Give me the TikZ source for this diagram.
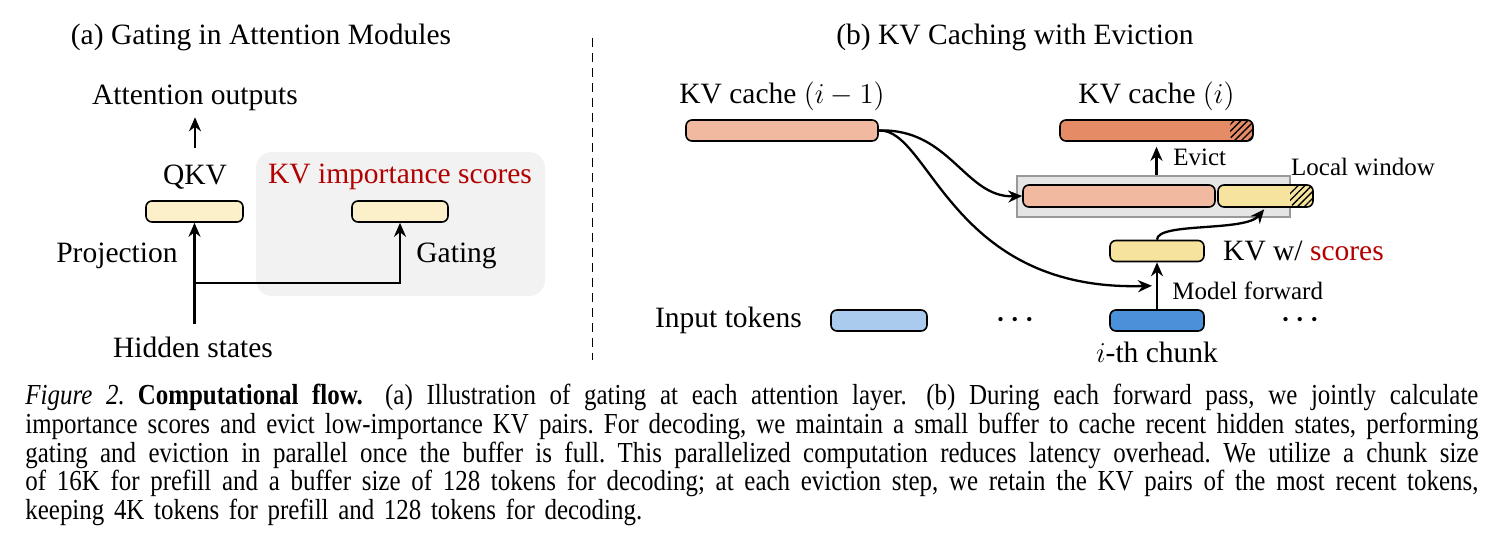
\documentclass[tikz,border=0pt]{standalone}
\usepackage{fontspec}
\setmainfont{Liberation Serif}
\newfontfamily\capfont{Liberation Serif}[FakeStretch=0.86]
\usepackage{tikz}
\usetikzlibrary{positioning,arrows.meta,calc,patterns.meta}
\definecolor{cream}{HTML}{FBF0C9}
\definecolor{sand}{HTML}{F5E39E}
\definecolor{salmon}{HTML}{F0B9A0}
\definecolor{rust}{HTML}{E58C66}
\definecolor{sky}{HTML}{AACBEE}
\definecolor{ocean}{HTML}{4B91DA}
\definecolor{scorered}{HTML}{B30000}
\newcommand{\mainsize}{\fontsize{14.75pt}{17pt}\selectfont}
\newcommand{\notesize}{\fontsize{12.5pt}{15pt}\selectfont}
\newcommand{\capsize}{\capfont\fontsize{14.5pt}{13pt}\selectfont\frenchspacing}
\newcommand{\capline}[1]{\hbox to 726.5pt{\spaceskip=0.215em plus 0.6em minus 0.05em\relax #1}}
\newcommand{\skipdots}{{\fontsize{18pt}{18pt}\selectfont\textperiodcentered\hspace{1.2pt}\textperiodcentered\hspace{1.2pt}\textperiodcentered}}
\tikzset{
  bar/.style={draw,line width=0.8pt,rounded corners=3pt,minimum height=10.5pt,inner sep=0pt},
  lbl/.style={font=\mainsize,inner sep=1pt},
  note/.style={font=\notesize,inner sep=1pt},
  arr/.style={-{Stealth[length=7pt,width=6pt]},line width=1.15pt},
  hatchend/.style={path picture={\fill[pattern={Lines[angle=45,distance=2.4pt,line width=0.65pt]}]
      ([xshift=-#1]path picture bounding box.north east) rectangle (path picture bounding box.south east);}},
}

\begin{document}
\begin{tikzpicture}[x=0.5pt,y=-0.5pt]
\useasboundingbox (0,0) rectangle (1494,547);

\node[lbl] (titlea) at (261,37) {(a) Gating in Attention Modules};
\node[fill=black!5,rounded corners=8pt,minimum width=144.5pt,minimum height=72pt] (scorebg) at (400.5,224) {};
\node[bar,fill=cream,minimum width=48.5pt] (qkv) at (194.5,211.5) {};
\node[bar,fill=cream,minimum width=48pt] (gate) at (400,211.5) {};
\node[lbl] (qkvlbl) at (195,177) {QKV};
\node[lbl,text=scorered] (scorelbl) at (400,177) {KV importance scores};
\node[lbl] (attn) at (195,98) {Attention outputs};
\node[lbl,anchor=east] (proj) at (180,256) {Projection};
\node[lbl,anchor=west] (gating) at (414,256) {Gating};
\node[lbl] (hidden) at (193,347) {Hidden states};
\coordinate (split) at (195,283);
\draw[arr,shorten <=5pt] (qkv.south |- hidden.north) -- (qkv.south);
\draw[arr] (split) -| (gate.south);
\draw[arr,shorten <=7pt,shorten >=2pt] (qkvlbl.north) -- (attn.south);

\draw[line width=0.5pt,dash pattern=on 4.5pt off 3pt] (592,38) -- (592,360);

\node[lbl] (titleb) at (1015,37) {(b) KV Caching with Eviction};
\node[bar,fill=salmon,minimum width=96pt] (prev) at (782,130.5) {};
\node[lbl,above=3pt of prev] (prevlbl) {KV cache $(i-1)$};
\node[bar,fill=rust,minimum width=96.5pt,hatchend=11.5pt] (cur) at (1156.5,130.5) {};
\node[lbl,above=3pt of cur] (curlbl) {KV cache $(i)$};
\node[draw=black!40,fill=black!10,line width=0.8pt,minimum width=136.5pt,minimum height=20.5pt,inner sep=0pt] (window) at (1153.5,196.5) {};
\node[bar,fill=salmon,minimum width=96pt,minimum height=11pt] (kept) at (1119,196) {};
\node[bar,fill=sand,minimum width=47.5pt,minimum height=11pt,hatchend=11.5pt] (recent) at (1265.5,196) {};
\node[note] (locallbl) at (1363,167) {Local window};
\draw[arr,shorten >=2.5pt] (cur.south |- window.north) -- (cur.south);
\node[note,anchor=west] (evictlbl) at (1171,157) {Evict};
\node[bar,fill=sand,minimum width=47pt] (scored) at (1157,251) {};
\node[lbl,right=8pt of scored] (scoredlbl) {KV w/ \textcolor{scorered}{scores}};
\node[bar,fill=sky,minimum width=48pt] (tokens) at (879,320.5) {};
\node[lbl,left=13pt of tokens] (tokenslbl) {Input tokens};
\node[lbl] (dotsa) at (1015,324) {\skipdots};
\node[bar,fill=ocean,minimum width=47pt] (chunk) at (1157,320.5) {};
\node[lbl] (dotsb) at (1300,324) {\skipdots};
\node[lbl,below=4pt of chunk] (chunklbl) {$i$-th chunk};
\draw[arr] (chunk.north) -- (scored.south);
\node[note,anchor=west] (fwdlbl) at (1170,291) {Model forward};
\coordinate (fwd) at ($(chunk.north)!0.5!(scored.south)+(-5,0)$);
\draw[arr] (prev.east) .. controls (950,128) and (965,198) .. (kept.west);
\draw[arr] (prev.east) .. controls (930,128) and (950,292) .. (fwd);
\draw[arr,shorten >=1pt] (scored.north) .. controls (1157,222) and (1245,232) .. (recent.south);

\node[anchor=north west,inner sep=0pt,text width=726.5pt,font=\capsize] (caption) at (25,384) {%
\capline{\textit{Figure 2.}\hspace{0.45em}\textbf{Computational flow.}\hspace{0.3em} (a) Illustration of gating at each attention layer.\hspace{0.2em} (b) During each forward pass, we jointly calculate}
\capline{importance scores and evict low-importance KV pairs. For decoding, we maintain a small buffer to cache recent hidden states, performing}
\capline{gating and eviction in parallel once the buffer is full. This parallelized computation reduces latency overhead. We utilize a chunk size}
\capline{of 16K for prefill and a buffer size of 128 tokens for decoding; at each eviction step, we retain the KV pairs of the most recent tokens,}
\hbox{keeping 4K tokens for prefill and 128 tokens for decoding.}};
\end{tikzpicture}
\end{document}
